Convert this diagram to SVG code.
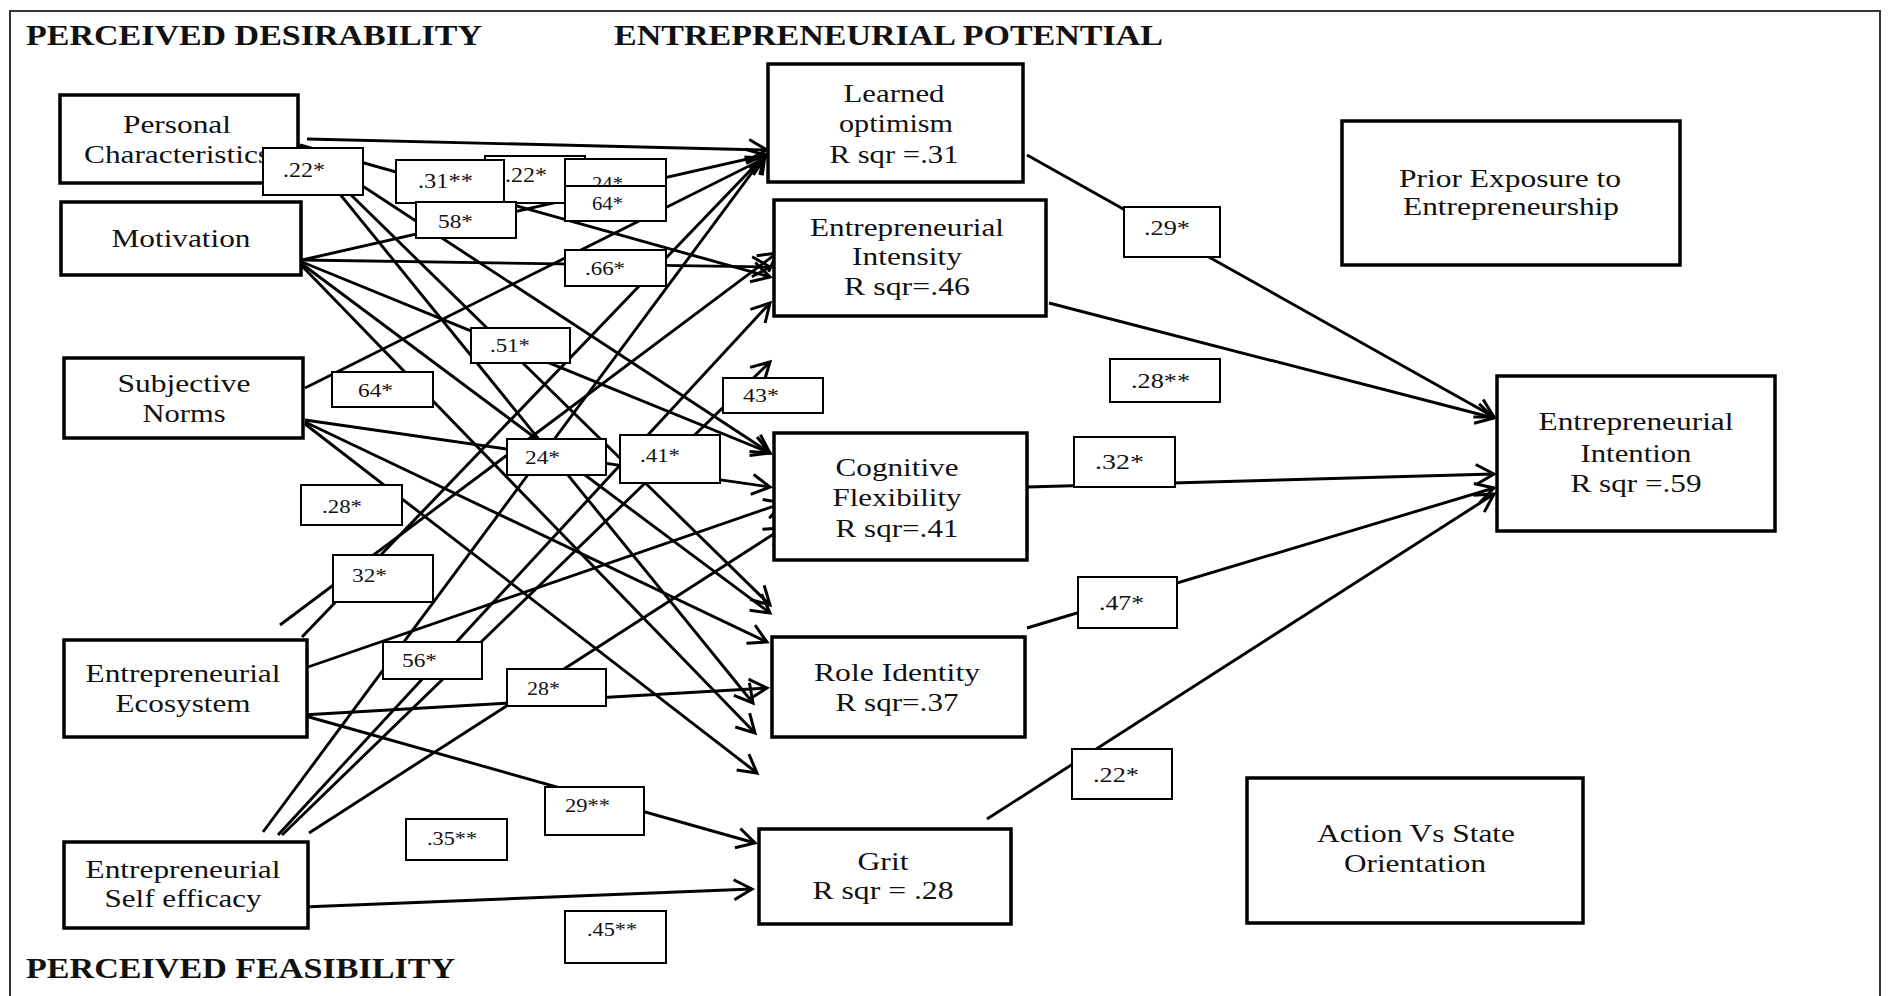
<svg xmlns="http://www.w3.org/2000/svg" width="1891" height="996" viewBox="0 0 1891 996">
  <defs>
    <marker id="arrow" markerUnits="userSpaceOnUse" markerWidth="26" markerHeight="26" refX="20" refY="12" orient="auto" overflow="visible">
      <path d="M2,2 L20,12 L2,22" fill="none" stroke="#000" stroke-width="3"/>
    </marker>
  </defs>
  <style>
    .frame { fill: none; stroke: #333; stroke-width: 2; }
    .title { font-family: "Liberation Serif", "Times New Roman", serif; font-weight: bold; font-size: 29px; fill: #111; }
    .node rect { fill: #fff; stroke: #000; stroke-width: 3.5; }
    .node text { font-family: "Liberation Serif", "Times New Roman", serif; font-size: 26px; fill: #111; text-anchor: middle; }
    .lab rect { fill: #fff; stroke: #000; stroke-width: 2; }
    .lab text { font-family: "Liberation Serif", "Times New Roman", serif; font-size: 19px; fill: #111; }
    .lab.big text { font-size: 22px; }
    #connectors line { stroke: #000; stroke-width: 2.9; fill: none; marker-end: url(#arrow); }
  </style>

  <rect width="1891" height="996" fill="#fff"/>
  <path class="frame" d="M10,1000 V11 H1880 V1000"/>

  <!-- section headings -->
  <text class="title" x="26" y="45" textLength="456" lengthAdjust="spacingAndGlyphs">PERCEIVED DESIRABILITY</text>
  <text class="title" x="614" y="45" textLength="549" lengthAdjust="spacingAndGlyphs">ENTREPRENEURIAL POTENTIAL</text>
  <text class="title" x="26" y="978" textLength="429" lengthAdjust="spacingAndGlyphs">PERCEIVED FEASIBILITY</text>

  <!-- paths between constructs -->
  <g id="connectors">
    <!-- Personal Characteristics -->
    <line x1="307" y1="139" x2="767" y2="150"/>
    <line x1="300" y1="145" x2="770" y2="277"/>
    <line x1="300" y1="145" x2="770" y2="453"/>
    <line x1="300" y1="145" x2="770" y2="605"/>
    <line x1="300" y1="145" x2="753" y2="703"/>
    <!-- Motivation -->
    <line x1="302" y1="260" x2="765" y2="155"/>
    <line x1="302" y1="260" x2="770" y2="267"/>
    <line x1="302" y1="262" x2="770" y2="453"/>
    <line x1="302" y1="264" x2="770" y2="613"/>
    <line x1="302" y1="266" x2="755" y2="733"/>
    <!-- Subjective Norms -->
    <line x1="305" y1="388" x2="765" y2="158"/>
    <line x1="305" y1="420" x2="770" y2="487"/>
    <line x1="305" y1="422" x2="767" y2="642"/>
    <line x1="305" y1="424" x2="757" y2="773"/>
    <!-- Entrepreneurial Ecosystem -->
    <line x1="280" y1="625" x2="777" y2="253"/>
    <line x1="302" y1="637" x2="765" y2="155"/>
    <line x1="308" y1="667" x2="783" y2="503"/>
    <line x1="302" y1="715" x2="767" y2="688"/>
    <line x1="302" y1="715" x2="755" y2="843"/>
    <!-- Entrepreneurial Self efficacy -->
    <line x1="263" y1="832" x2="765" y2="155"/>
    <line x1="278" y1="835" x2="770" y2="303"/>
    <line x1="282" y1="835" x2="770" y2="362"/>
    <line x1="309" y1="833" x2="783" y2="528"/>
    <line x1="303" y1="907" x2="752" y2="889"/>
    <!-- mediators to intention -->
    <line x1="1027" y1="155" x2="1494" y2="417"/>
    <line x1="1049" y1="303" x2="1494" y2="418"/>
    <line x1="1027" y1="487" x2="1494" y2="474"/>
    <line x1="1027" y1="628" x2="1494" y2="488"/>
    <line x1="987" y1="819" x2="1494" y2="494"/>
  </g>

  <!-- antecedents -->
  <g id="personal-characteristics" class="node">
    <rect x="60" y="95" width="238" height="88"/>
    <text x="177" y="133" textLength="108" lengthAdjust="spacingAndGlyphs">Personal</text>
    <text x="177" y="163" textLength="186" lengthAdjust="spacingAndGlyphs">Characteristics</text>
  </g>
  <g id="motivation" class="node">
    <rect x="61" y="202" width="240" height="73"/>
    <text x="181" y="247" textLength="139" lengthAdjust="spacingAndGlyphs">Motivation</text>
  </g>
  <g id="subjective-norms" class="node">
    <rect x="64" y="358" width="239" height="80"/>
    <text x="184" y="392" textLength="133" lengthAdjust="spacingAndGlyphs">Subjective</text>
    <text x="184" y="422" textLength="83" lengthAdjust="spacingAndGlyphs">Norms</text>
  </g>
  <g id="entrepreneurial-ecosystem" class="node">
    <rect x="64" y="640" width="243" height="97"/>
    <text x="183" y="682" textLength="195" lengthAdjust="spacingAndGlyphs">Entrepreneurial</text>
    <text x="183" y="712" textLength="135" lengthAdjust="spacingAndGlyphs">Ecosystem</text>
  </g>
  <g id="entrepreneurial-self-efficacy" class="node">
    <rect x="64" y="842" width="244" height="86"/>
    <text x="183" y="878" textLength="195" lengthAdjust="spacingAndGlyphs">Entrepreneurial</text>
    <text x="183" y="907" textLength="157" lengthAdjust="spacingAndGlyphs">Self efficacy</text>
  </g>

  <!-- entrepreneurial potential -->
  <g id="learned-optimism" class="node">
    <rect x="768" y="64" width="255" height="118"/>
    <text x="894" y="102" textLength="101" lengthAdjust="spacingAndGlyphs">Learned</text>
    <text x="896" y="132" textLength="114" lengthAdjust="spacingAndGlyphs">optimism</text>
    <text x="894" y="163" textLength="129" lengthAdjust="spacingAndGlyphs">R sqr =.31</text>
  </g>
  <g id="entrepreneurial-intensity" class="node">
    <rect x="774" y="200" width="272" height="116"/>
    <text x="907" y="236" textLength="194" lengthAdjust="spacingAndGlyphs">Entrepreneurial</text>
    <text x="907" y="265" textLength="110" lengthAdjust="spacingAndGlyphs">Intensity</text>
    <text x="907" y="295" textLength="126" lengthAdjust="spacingAndGlyphs">R sqr=.46</text>
  </g>
  <g id="cognitive-flexibility" class="node">
    <rect x="774" y="433" width="253" height="127"/>
    <text x="897" y="476" textLength="123" lengthAdjust="spacingAndGlyphs">Cognitive</text>
    <text x="897" y="506" textLength="129" lengthAdjust="spacingAndGlyphs">Flexibility</text>
    <text x="897" y="537" textLength="123" lengthAdjust="spacingAndGlyphs">R sqr=.41</text>
  </g>
  <g id="role-identity" class="node">
    <rect x="772" y="637" width="253" height="100"/>
    <text x="897" y="681" textLength="166" lengthAdjust="spacingAndGlyphs">Role Identity</text>
    <text x="897" y="711" textLength="123" lengthAdjust="spacingAndGlyphs">R sqr=.37</text>
  </g>
  <g id="grit" class="node">
    <rect x="759" y="829" width="252" height="95"/>
    <text x="883" y="870" textLength="51" lengthAdjust="spacingAndGlyphs">Grit</text>
    <text x="883" y="899" textLength="141" lengthAdjust="spacingAndGlyphs">R sqr = .28</text>
  </g>

  <!-- outcome and context -->
  <g id="prior-exposure" class="node">
    <rect x="1342" y="121" width="338" height="144"/>
    <text x="1510" y="187" textLength="222" lengthAdjust="spacingAndGlyphs">Prior Exposure to</text>
    <text x="1511" y="215" textLength="216" lengthAdjust="spacingAndGlyphs">Entrepreneurship</text>
  </g>
  <g id="entrepreneurial-intention" class="node">
    <rect x="1497" y="376" width="278" height="155"/>
    <text x="1636" y="430" textLength="195" lengthAdjust="spacingAndGlyphs">Entrepreneurial</text>
    <text x="1636" y="462" textLength="111" lengthAdjust="spacingAndGlyphs">Intention</text>
    <text x="1636" y="492" textLength="131" lengthAdjust="spacingAndGlyphs">R sqr =.59</text>
  </g>
  <g id="action-vs-state" class="node">
    <rect x="1247" y="778" width="336" height="145"/>
    <text x="1416" y="842" textLength="198" lengthAdjust="spacingAndGlyphs">Action Vs State</text>
    <text x="1415" y="872" textLength="142" lengthAdjust="spacingAndGlyphs">Orientation</text>
  </g>

  <!-- path coefficients -->
  <g id="coefficients">
    <g class="lab big"><rect x="263" y="148" width="100" height="47"/><text x="283" y="177" textLength="42" lengthAdjust="spacingAndGlyphs">.22*</text></g>
    <g class="lab big"><rect x="485" y="156" width="100" height="47"/><text x="505" y="182" textLength="42" lengthAdjust="spacingAndGlyphs">.22*</text></g>
    <g class="lab big"><rect x="396" y="160" width="108" height="43"/><text x="418" y="188" textLength="55" lengthAdjust="spacingAndGlyphs">.31**</text></g>
    <g class="lab"><rect x="565" y="159" width="101" height="27"/><text x="592" y="190" font-size="18" textLength="31" lengthAdjust="spacingAndGlyphs">24*</text></g>
    <g class="lab"><rect x="565" y="186" width="101" height="35"/><text x="592" y="210" font-size="18" textLength="31" lengthAdjust="spacingAndGlyphs">64*</text></g>
    <g class="lab"><rect x="416" y="202" width="100" height="36"/><text x="438" y="228" font-size="20" textLength="35" lengthAdjust="spacingAndGlyphs">58*</text></g>
    <g class="lab"><rect x="565" y="250" width="101" height="36"/><text x="585" y="275" textLength="40" lengthAdjust="spacingAndGlyphs">.66*</text></g>
    <g class="lab"><rect x="471" y="328" width="99" height="35"/><text x="490" y="352" textLength="40" lengthAdjust="spacingAndGlyphs">.51*</text></g>
    <g class="lab"><rect x="332" y="372" width="101" height="35"/><text x="358" y="397" textLength="35" lengthAdjust="spacingAndGlyphs">64*</text></g>
    <g class="lab"><rect x="723" y="378" width="100" height="35"/><text x="743" y="402" textLength="36" lengthAdjust="spacingAndGlyphs">43*</text></g>
    <g class="lab"><rect x="507" y="439" width="99" height="36"/><text x="525" y="464" textLength="35" lengthAdjust="spacingAndGlyphs">24*</text></g>
    <g class="lab"><rect x="620" y="435" width="100" height="48"/><text x="640" y="462" textLength="40" lengthAdjust="spacingAndGlyphs">.41*</text></g>
    <g class="lab"><rect x="301" y="485" width="101" height="40"/><text x="322" y="513" textLength="40" lengthAdjust="spacingAndGlyphs">.28*</text></g>
    <g class="lab"><rect x="333" y="555" width="100" height="47"/><text x="352" y="582" textLength="35" lengthAdjust="spacingAndGlyphs">32*</text></g>
    <g class="lab"><rect x="383" y="642" width="99" height="37"/><text x="402" y="667" textLength="35" lengthAdjust="spacingAndGlyphs">56*</text></g>
    <g class="lab"><rect x="507" y="669" width="99" height="37"/><text x="527" y="695" textLength="33" lengthAdjust="spacingAndGlyphs">28*</text></g>
    <g class="lab"><rect x="545" y="787" width="99" height="48"/><text x="565" y="812" textLength="45" lengthAdjust="spacingAndGlyphs">29**</text></g>
    <g class="lab"><rect x="406" y="819" width="101" height="41"/><text x="427" y="845" textLength="50" lengthAdjust="spacingAndGlyphs">.35**</text></g>
    <g class="lab"><rect x="565" y="911" width="101" height="52"/><text x="587" y="936" textLength="50" lengthAdjust="spacingAndGlyphs">.45**</text></g>
    <g class="lab big"><rect x="1124" y="207" width="96" height="50"/><text x="1144" y="235" textLength="46" lengthAdjust="spacingAndGlyphs">.29*</text></g>
    <g class="lab big"><rect x="1110" y="359" width="110" height="43"/><text x="1131" y="388" textLength="59" lengthAdjust="spacingAndGlyphs">.28**</text></g>
    <g class="lab big"><rect x="1074" y="437" width="101" height="50"/><text x="1095" y="469" textLength="49" lengthAdjust="spacingAndGlyphs">.32*</text></g>
    <g class="lab big"><rect x="1078" y="577" width="99" height="51"/><text x="1099" y="610" textLength="45" lengthAdjust="spacingAndGlyphs">.47*</text></g>
    <g class="lab big"><rect x="1072" y="749" width="100" height="50"/><text x="1093" y="782" textLength="46" lengthAdjust="spacingAndGlyphs">.22*</text></g>
  </g>
</svg>
